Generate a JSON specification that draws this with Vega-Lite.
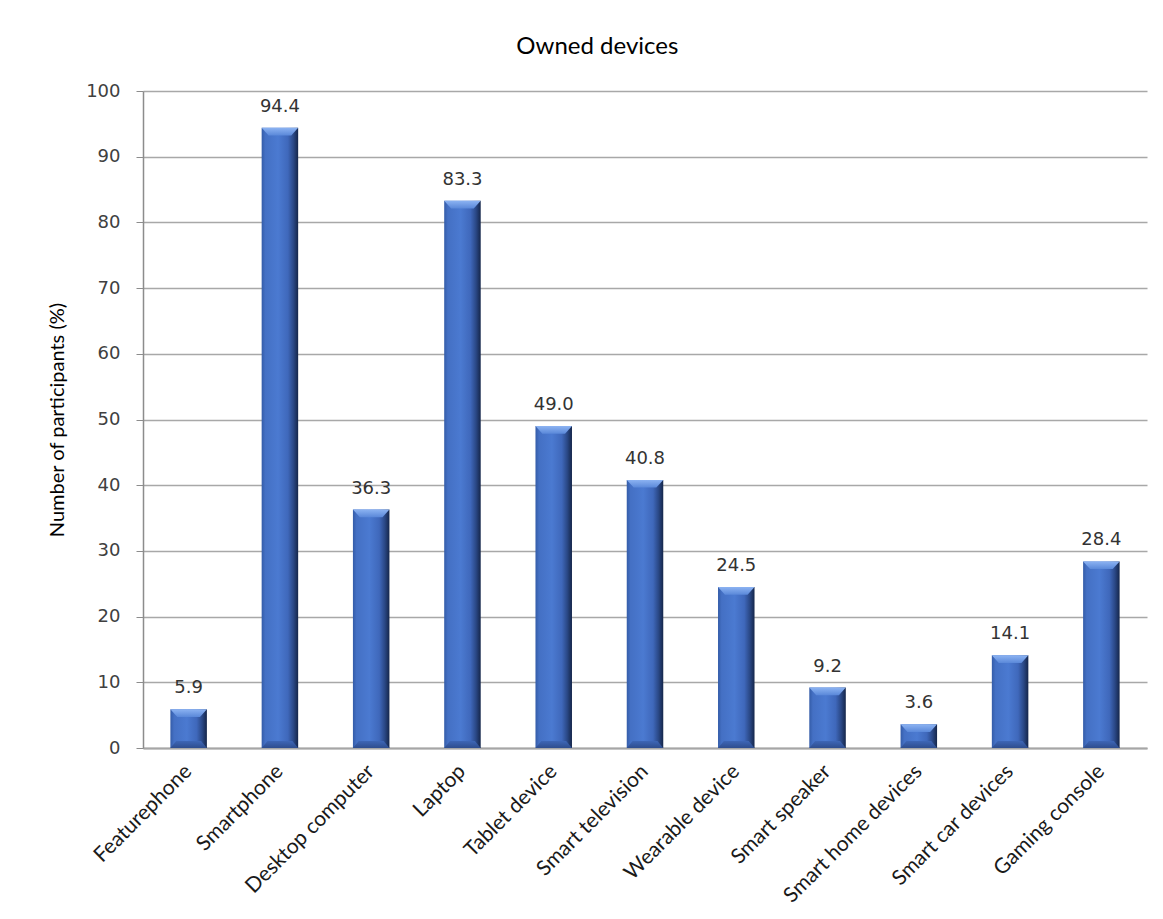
{
  "$schema": "https://vega.github.io/schema/vega-lite/v6.json",
  "autosize": "none",
  "width": 1004,
  "height": 657,
  "padding": {"left": 143, "top": 91, "right": 16, "bottom": 171},
  "background": "white",
  "config": {"view": {"stroke": null}},
  "title": {
    "text": "Owned devices",
    "font": "Lato",
    "fontSize": 24,
    "fontWeight": "normal",
    "color": "#000000",
    "anchor": "middle",
    "frame": "bounds",
    "baseline": "alphabetic",
    "offset": 4
  },
  "data": {
    "values": [
      {"device": "Featurephone", "pct": 5.9},
      {"device": "Smartphone", "pct": 94.4},
      {"device": "Desktop computer", "pct": 36.3},
      {"device": "Laptop", "pct": 83.3},
      {"device": "Tablet device", "pct": 49.0},
      {"device": "Smart television", "pct": 40.8},
      {"device": "Wearable device", "pct": 24.5},
      {"device": "Smart speaker", "pct": 9.2},
      {"device": "Smart home devices", "pct": 3.6},
      {"device": "Smart car devices", "pct": 14.1},
      {"device": "Gaming console", "pct": 28.4}
    ]
  },
  "encoding": {
    "x": {
      "field": "device",
      "type": "nominal",
      "sort": null,
      "scale": {"paddingInner": 0.6, "paddingOuter": 0.3},
      "axis": {
        "title": null,
        "ticks": false,
        "domainColor": "#a6a6a6",
        "domainWidth": 2,
        "labelAngle": -45,
        "labelAlign": "right",
        "labelBaseline": "middle",
        "labelFont": "Lato",
        "labelFontSize": 21,
        "labelColor": "#1a1a1a",
        "labelPadding": 20,
        "labelLimit": 0
      }
    },
    "y": {
      "field": "pct",
      "type": "quantitative",
      "scale": {"domain": [0, 100], "nice": false},
      "axis": {
        "title": "Number of participants (%)",
        "titleFont": "Lato",
        "titleFontSize": 20,
        "titleFontWeight": "normal",
        "titleColor": "#000000",
        "titlePadding": 18,
        "values": [0, 10, 20, 30, 40, 50, 60, 70, 80, 90, 100],
        "grid": true,
        "gridColor": "#a8a8a8",
        "gridWidth": 1.5,
        "domainColor": "#8c8c8c",
        "domainWidth": 1.5,
        "tickColor": "#8c8c8c",
        "tickSize": 7,
        "labelPadding": 16,
        "labelFont": "DejaVu Sans",
        "labelFontSize": 18,
        "labelColor": "#404040"
      }
    }
  },
  "layer": [
    {
      "mark": {
        "type": "bar",
        "color": {
          "gradient": "linear",
          "x1": 0, "y1": 0, "x2": 1, "y2": 0,
          "stops": [
            {"offset": 0, "color": "#345ca8"},
            {"offset": 0.1, "color": "#4470c4"},
            {"offset": 0.45, "color": "#4b7ad1"},
            {"offset": 0.72, "color": "#3f68bb"},
            {"offset": 0.87, "color": "#2a4886"},
            {"offset": 1, "color": "#15264a"}
          ]
        }
      }
    },
    {
      "mark": {
        "type": "point",
        "filled": true,
        "opacity": 1,
        "strokeWidth": 0,
        "size": 1332,
        "shape": "M-1,0L1,0L0.62,0.42L-0.62,0.42Z",
        "color": {
          "gradient": "linear",
          "x1": 0, "y1": 0, "x2": 0, "y2": 1,
          "stops": [
            {"offset": 0, "color": "#8cb3f2"},
            {"offset": 1, "color": "#5a88d9"}
          ]
        }
      }
    },
    {
      "mark": {
        "type": "point",
        "filled": true,
        "opacity": 1,
        "strokeWidth": 0,
        "size": 1332,
        "shape": "M-1,0L1,0L0.68,-0.38L-0.68,-0.38Z",
        "color": {
          "gradient": "linear",
          "x1": 0, "y1": 0, "x2": 0, "y2": 1,
          "stops": [
            {"offset": 0, "color": "#3d66b6"},
            {"offset": 1, "color": "#2e4d8e"}
          ]
        }
      },
      "encoding": {"y": {"datum": 0}}
    },
    {
      "mark": {
        "type": "text",
        "font": "DejaVu Sans",
        "fontSize": 18,
        "color": "#333333",
        "baseline": "alphabetic",
        "dy": -16
      },
      "encoding": {
        "text": {"field": "pct", "type": "quantitative", "format": ".1f"}
      }
    }
  ]
}
